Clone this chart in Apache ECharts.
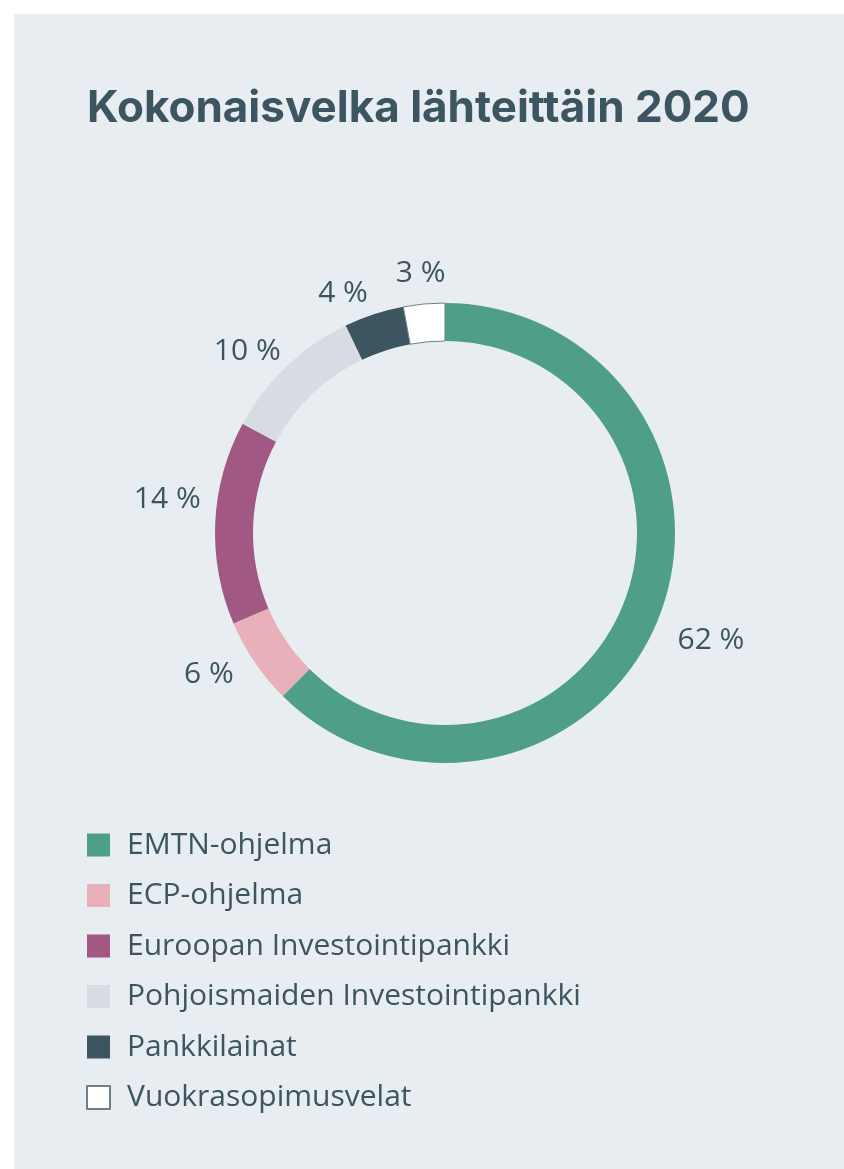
<!DOCTYPE html>
<html>
<head>
<meta charset="utf-8">
<script src="https://cdn.jsdelivr.net/npm/echarts@6/dist/echarts.min.js"></script>
<style>
  html, body { margin: 0; padding: 0; background: #ffffff; }
  #panel { position: absolute; left: 14px; top: 14px; width: 830px; height: 1155px; background: #e8edf1; }
  #main { position: absolute; left: 0; top: 0; width: 844px; height: 1169px; }
</style>
</head>
<body>
<div id="panel"></div>
<div id="main"></div>
<script>
// osuudet kokonaisvelasta, %
const sources = ['EMTN-ohjelma', 'ECP-ohjelma', 'Euroopan Investointipankki', 'Pohjoismaiden Investointipankki', 'Pankkilainat', 'Vuokrasopimusvelat']
const shares = [62.4, 6.1, 14.3, 10.0, 4.2, 2.9]
const colors = ['#4f9e87', '#e8b1b9', '#a15882', '#d6dce2', '#3d5561', '#ffffff']

const textColor = '#3d5561'
// prosenttitekstien pieni siirto, jotta ne istuvat kuten alkuperäisessä
const labelNudge = [[9, 1], [-6, -15], [0, -21], [-6, 20], [-16, 25], [1, 17]]

const chart = echarts.init(document.getElementById('main'))

const ringData = sources.map((name, i) => {
  const item = { name: name, value: shares[i], itemStyle: { color: colors[i] } }
  // valkoiselle siivulle ohut reunaviiva
  if (colors[i] === '#ffffff') {
    item.itemStyle.borderColor = '#6e7f88'
    item.itemStyle.borderWidth = 1
  }
  return item
})

const option = {
  animation: false,
  title: {
    text: 'Kokonaisvelka lähteittäin 2020',
    left: 82,
    top: 82,
    textStyle: {
      fontFamily: 'Inter',
      fontWeight: 'bold',
      fontSize: 44,
      color: textColor
    }
  },
  legend: {
    orient: 'vertical',
    left: 86,
    top: 830,
    padding: 0,
    icon: 'rect',
    itemWidth: 23,
    itemHeight: 23,
    itemGap: 20.5,
    data: sources,
    selectedMode: false,
    textStyle: {
      fontFamily: 'Open Sans',
      fontSize: 30,
      lineHeight: 30,
      color: textColor,
      padding: [0, 0, 0, 12]
    }
  },
  series: [
    {
      type: 'pie',
      center: [445, 533],
      radius: [192, 230],
      startAngle: 90,
      silent: true,
      label: { show: false },
      labelLine: { show: false },
      data: ringData
    },
    {
      // näkymätön rengas prosenttiteksteille
      type: 'pie',
      center: [445, 533],
      radius: [250, 300],
      startAngle: 90,
      silent: true,
      itemStyle: { color: 'rgba(0,0,0,0)' },
      labelLine: { show: false },
      label: {
        show: true,
        position: 'inside',
        fontFamily: 'Open Sans',
        fontSize: 30,
        color: textColor,
        formatter: (p) => Math.round(p.value) + ' %'
      },
      data: sources.map((name, i) => ({
        name: name,
        value: shares[i],
        label: { offset: labelNudge[i] }
      }))
    }
  ]
}

chart.setOption(option)
</script>
</body>
</html>
